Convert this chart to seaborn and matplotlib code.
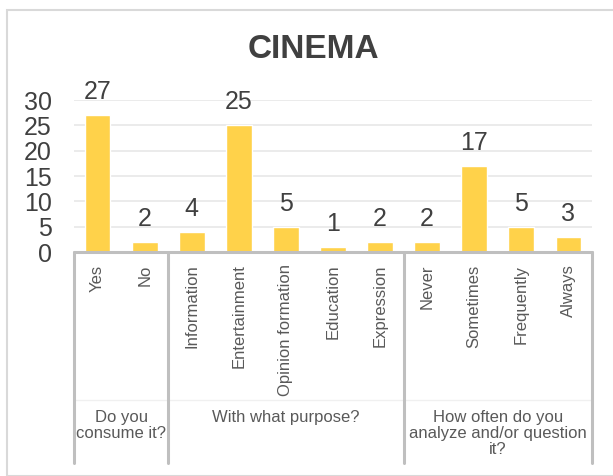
import matplotlib
matplotlib.use("Agg")
import matplotlib.pyplot as plt
import matplotlib.transforms as mtransforms
from matplotlib.patches import Rectangle
import seaborn as sns
import pandas as pd

# Survey answers about cinema
categories = ["Yes", "No", "Information", "Entertainment", "Opinion formation",
              "Education", "Expression", "Never", "Sometimes", "Frequently", "Always"]
values = [27, 2, 4, 25, 5, 1, 2, 2, 17, 5, 3]
groups = ["Do you\nconsume it?", "With what purpose?",
          "How often do you\nanalyze and/or question\nit?"]
group_sizes = [2, 5, 4]
y_ticks = [0, 5, 10, 15, 20, 25, 30]

sns.set_theme(style="white")
plt.rcParams["font.family"] = ["Liberation Sans", "DejaVu Sans"]

df = pd.DataFrame({"category": categories, "value": values})

W, H = 613, 476
fig = plt.figure(figsize=(W / 100, H / 100), dpi=100)
ax = fig.add_axes([74 / W, (H - 252) / H, (592 - 74) / W, 152 / H])

# Outer chart frame
fig.patches.append(Rectangle((7 / W, 0), 1.2, (H - 10) / H, transform=fig.transFigure,
                             fill=False, edgecolor="#d9d9d9", linewidth=1.5))

sns.barplot(data=df, x="category", y="value", color="#FFD24A", width=0.55,
            saturation=1, ax=ax, zorder=3)

ax.set_ylim(0, 30)
ax.set_xlim(-0.5, len(categories) - 0.5)
ax.set_yticks(y_ticks)
ax.set_yticklabels([str(t) for t in y_ticks], fontsize=18, color="#404040")
for t in y_ticks[1:]:
    ax.axhline(t, color="#e8e8e8", linewidth=1.2, zorder=1)
for s in ax.spines.values():
    s.set_visible(False)
ax.tick_params(axis="y", length=0, pad=16)
ax.tick_params(axis="x", length=0, pad=9)
ax.set_xticks(range(len(categories)))
ax.set_xticklabels(categories, rotation=90, fontsize=12, color="#595959", va="top")
ax.set_xlabel("")
ax.set_ylabel("")

# Value labels above bars
for i, v in enumerate(values):
    ax.annotate(str(v), (i, v), xytext=(0, 8), textcoords="offset points",
                ha="center", va="bottom", fontsize=18, color="#404040")

# Multi-level category axis
trans = mtransforms.blended_transform_factory(ax.transData, ax.transAxes)
bottom = -(463 - 252) / 152
ax.plot([-0.5, len(categories) - 0.5], [0, 0], transform=trans, color="#bfbfbf",
        linewidth=2.2, clip_on=False, zorder=4)
row_sep = -(400 - 252) / 152
ax.plot([-0.5, len(categories) - 0.5], [row_sep, row_sep], transform=trans,
        color="#f0f0f0", linewidth=1, clip_on=False)
start = -0.5
bounds = [start]
for g in group_sizes:
    start += g
    bounds.append(start)
for b in bounds:
    ax.plot([b, b], [0, bottom], transform=trans, color="#bfbfbf", linewidth=2.2,
            clip_on=False, zorder=4)
for g, a, b in zip(groups, bounds[:-1], bounds[1:]):
    ax.text((a + b) / 2, -(410 - 252) / 152, g, transform=trans, ha="center", va="top",
            fontsize=12, color="#595959", linespacing=1.1)

fig.text(313 / W, (H - 50) / H, "CINEMA", ha="center", va="center", fontsize=24,
         fontweight="bold", color="#404040")

fig.savefig("out.png", dpi=100)
